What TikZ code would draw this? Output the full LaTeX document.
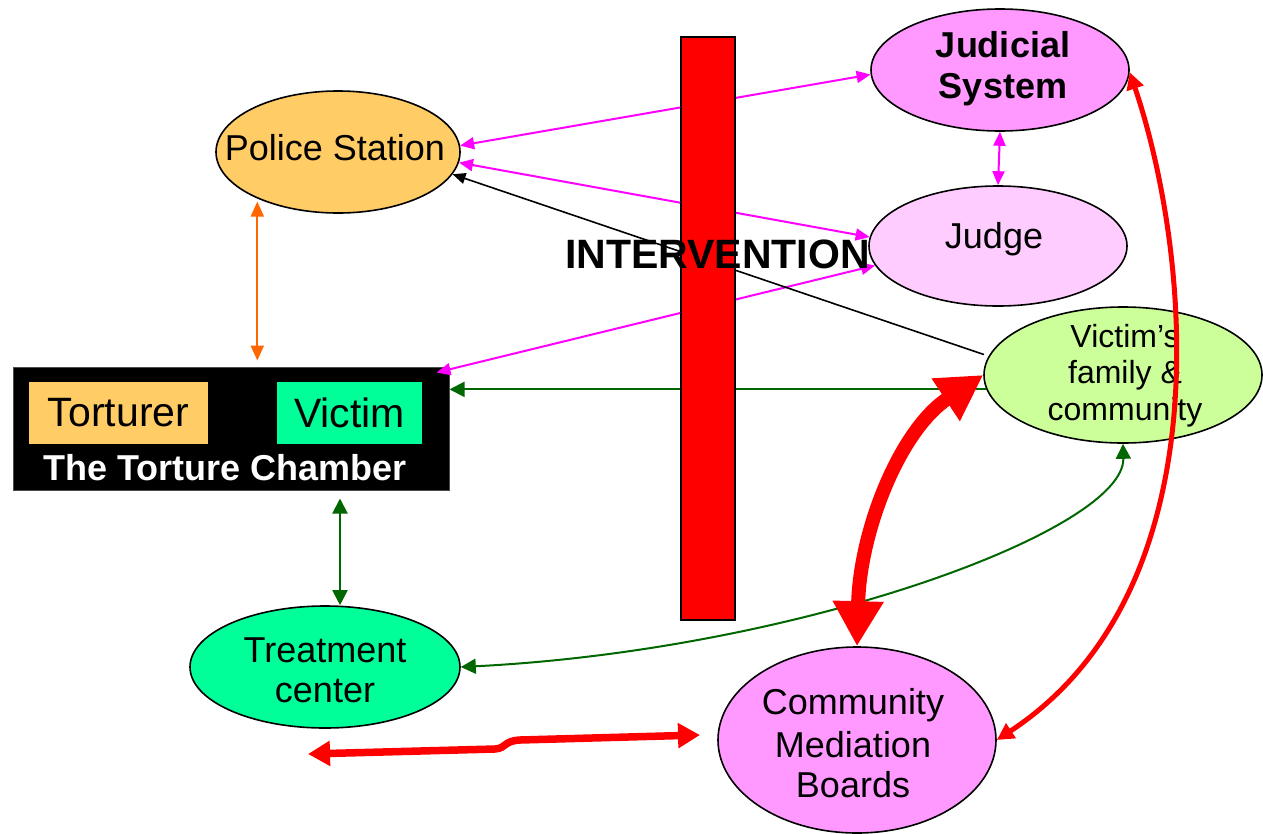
\documentclass[tikz,border=0pt]{standalone}
\usepackage{fontspec}
\setmainfont{Liberation Sans}
\usetikzlibrary{shapes.geometric,arrows.meta,calc}
\definecolor{policeC}{HTML}{FFCC66}
\definecolor{judC}{HTML}{FF99FF}
\definecolor{judgeC}{HTML}{FFCCFF}
\definecolor{famC}{HTML}{CCFF99}
\definecolor{treatC}{HTML}{00FF99}
\definecolor{magC}{HTML}{FF00FF}
\definecolor{dgreenC}{HTML}{006600}
\definecolor{orangeC}{HTML}{FF6600}
\definecolor{redC}{HTML}{FF0000}
\tikzset{
  ell/.style={ellipse, draw=black, line width=1.6pt, inner sep=0pt},
  txt/.style={anchor=base, inner sep=0pt, font=\fontsize{36}{36}\selectfont},
  btxt/.style={txt, font=\fontsize{36}{36}\selectfont\bfseries},
  stxt/.style={txt, font=\fontsize{32}{32}\selectfont},
  magarrow/.style={draw=magC, line width=2pt, {Triangle[length=14pt,width=12pt]}-{Triangle[length=14pt,width=12pt]}},
  orarrow/.style={draw=orangeC, line width=2pt, {Triangle[length=15pt,width=13pt]}-{Triangle[length=15pt,width=13pt]}},
  grarrow/.style={draw=dgreenC, line width=2pt, {Triangle[length=15pt,width=15pt]}-{Triangle[length=15pt,width=15pt]}},
  grone/.style={draw=dgreenC, line width=2pt, -{Triangle[length=15pt,width=15pt]}},
  blarrow/.style={draw=black, line width=1.6pt, -{Triangle[length=13pt,width=11pt]}},
  bigred/.style={draw=redC, line width=14pt, {Triangle[length=45pt,width=48pt]}-{Triangle[length=45pt,width=48pt]}},
  thinred/.style={draw=redC, line width=5pt, {Triangle[length=17pt,width=17pt]}-{Triangle[length=17pt,width=17pt]}},
  midred/.style={draw=redC, line width=7.5pt, line join=round, {Triangle[length=22pt,width=24pt]}-{Triangle[length=22pt,width=24pt]}},
}
\begin{document}
\begin{tikzpicture}[x=1pt,y=-1pt]
\useasboundingbox (0,0) rectangle (1263,833);

% ellipses
\node[ell, fill=policeC, minimum width=244pt, minimum height=122pt] (police) at (338,152) {};
\node[ell, fill=judC, minimum width=258pt, minimum height=122pt] (judicial) at (1000,70) {};
\node[ell, fill=judgeC, minimum width=258pt, minimum height=120pt] (judge) at (998,246) {};
\node[ell, fill=famC, minimum width=278pt, minimum height=136pt] (family) at (1123,375) {};
\node[ell, fill=treatC, minimum width=270pt, minimum height=122pt] (treatment) at (325,667) {};
\node[ell, fill=judC, minimum width=278pt, minimum height=186pt] (community) at (857,740) {};

% torture chamber
\node[draw=black!70, fill=black, line width=1pt, minimum width=436pt, minimum height=123pt, inner sep=0pt] (chamber) at (231,428.5) {};
\node[fill=policeC, minimum width=179pt, minimum height=62pt, inner sep=0pt, font=\fontsize{41}{41}\selectfont] (torturer) at (118.5,413) {Torturer};
\node[fill=treatC, minimum width=145pt, minimum height=62pt, inner sep=0pt, font=\fontsize{41}{41}\selectfont] (victim) at (349.5,413) {Victim};
\node[btxt, text=white] (chambertext) at (225,480) {The Torture Chamber};

% texts in ellipses
\node[txt] (ptext) at (335,160) {Police Station};
\node[btxt] (jtext1) at (1003,57) {Judicial};
\node[btxt] (jtext2) at (1003,98) {System};
\node[txt] (judgetext) at (994,248) {Judge};
\node[stxt] (ftext1) at (1125,347) {Victim’s};
\node[stxt] (ftext2) at (1125,383) {family \&};
\node[stxt] (ftext3) at (1125,420) {community};
\node[txt] (ttext1) at (325,662) {Treatment};
\node[txt] (ttext2) at (325,702) {center};
\node[txt] (ctext1) at (853,714) {Community};
\node[txt] (ctext2) at (853,757) {Mediation};
\node[txt] (ctext3) at (853,797) {Boards};

% connectors
\coordinate (chin) at ($(chamber.north east)+(-13,6)$);
\coordinate (tnorth) at ($(treatment.north)+(15,0)$);
\coordinate (blend) at (308,754);
\coordinate (brend) at (700,735);

\draw[magarrow] (police.3) -- (judicial.182);
\draw[magarrow] (police.-5) -- (judge.176);
\draw[magarrow] (chin) -- (judge.189);
\draw[magarrow] (judicial.south) -- (judge.north);
\draw[blarrow, shorten <=5pt] (family.172) -- (police.-11);
\draw[grone] (family.-174) -- (family.-174 -| chamber.east);
\draw[orarrow, shorten <=3pt, shorten >=6pt] (police.-150) -- (police.-150 |- chamber.north);
\draw[grarrow, shorten >=8pt] (tnorth) -- (tnorth |- chamber.south);
\draw[grarrow] (treatment.east) .. controls (800,650) and (1125,530) .. (family.south);
\draw[thinred] (judicial.-1) .. controls (1190,250) and (1225,590) .. (community.east);
\draw[bigred] (family.west) .. controls (900,430) and (860,530) .. (community.north);
\draw[midred] (blend) -- (495,749) .. controls (507,748) and (503,741) .. (520,740) -- (brend);

% intervention bar
\node[draw=black, fill=redC, line width=2pt, minimum width=54pt, minimum height=583pt, inner sep=0pt] (bar) at (708,328.5) {};
\node[anchor=base, inner sep=0pt, font=\fontsize{41}{41}\selectfont\bfseries] (intervention) at (717.5,268) {INTERVENTION};
\end{tikzpicture}
\end{document}
